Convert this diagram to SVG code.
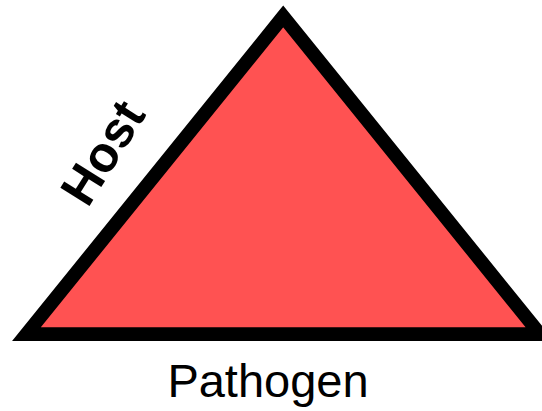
<svg xmlns="http://www.w3.org/2000/svg" width="542" height="411" viewBox="0 0 542 411">
  <style>
    .tri { fill: #ff5252; stroke: #000000; stroke-width: 13.7; stroke-linejoin: miter; stroke-miterlimit: 10; }
    .lbl { font-family: "Liberation Sans", Arial, Helvetica, sans-serif; fill: #000000; }
    .host { font-size: 50px; font-weight: bold; }
    .path { font-size: 47px; }
  </style>
  <rect width="542" height="411" fill="#ffffff"/>
  <g id="triangle">
    <polygon class="tri" points="283.2,16.4 26.4,334.2 540,334.2"/>
  </g>
  <g id="host-label">
    <text class="lbl host" transform="translate(102,152) rotate(-58)" x="0" y="18" text-anchor="middle">Host</text>
  </g>
  <g id="pathogen-label">
    <text class="lbl path" x="268" y="397" text-anchor="middle">Pathogen</text>
  </g>
</svg>
